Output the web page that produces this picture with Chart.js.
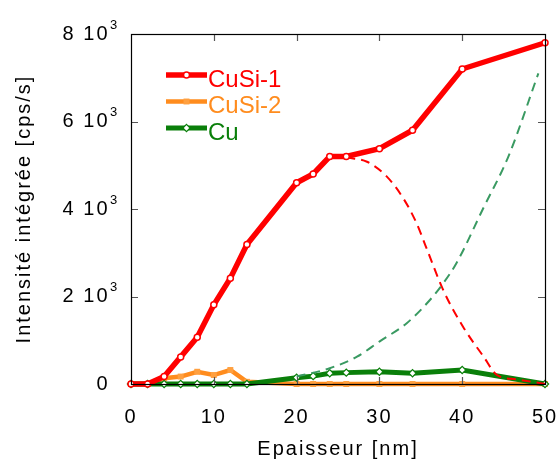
<!DOCTYPE html>
<html>
<head>
<meta charset="utf-8">
<script src="https://cdn.jsdelivr.net/npm/chart.js@4/dist/chart.umd.min.js"></script>
<style>
html,body{margin:0;padding:0;background:#ffffff;}
#wrap{width:560px;height:462px;}
</style>
</head>
<body>
<div id="wrap"><canvas id="c" width="560" height="462"></canvas></div>
<script>
// ---- data ----
const thickness = [0, 2, 4, 6, 8, 10, 12, 14, 20, 22, 24, 26, 30, 34, 40, 50];
const cusi1 = [0, 0, 170, 620, 1070, 1810, 2420, 3190, 4600, 4800, 5200, 5200, 5380, 5800, 7200, 7800];
const cusi2 = [0, 0, 130, 170, 280, 205, 320, 50, 0, 0, 0, 0, 0, 0, 0, 0];
const cu = [0, 0, 0, 0, 0, 0, 0, 0, 145, 180, 245, 260, 280, 245, 320, 0];

const cusi1TrendX = [26, 28.5, 30.9, 32.9, 34.5, 35.7, 37.7, 40.1, 42.6, 44.2, 46.6, 50];
const cusi1TrendY = [5180, 5080, 4740, 4240, 3670, 3100, 2150, 1310, 620, 205, 105, 0];
const cuTrendX = [20, 24, 27.3, 30, 33.3, 36.1, 37.7, 39.3, 42.5, 45.6, 49.2];
const cuTrendY = [170, 360, 625, 970, 1390, 1920, 2300, 2760, 4000, 5210, 7100];

const seriesNames = ['CuSi-1', 'CuSi-2', 'Cu'];
const xTicks = [0, 10, 20, 30, 40, 50];
const yTicks = [0, 2000, 4000, 6000, 8000];
const yTickLabels = ['0', '2 10', '4 10', '6 10', '8 10'];
const yTickExponents = ['', '3', '3', '3', '3'];
const xTitle = 'Epaisseur [nm]';
const yTitle = 'Intensité intégrée [cps/s]';

// ---- styles ----
const FONT = '"Liberation Sans", Arial, sans-serif';
const RED = '#ff0000';
const ORANGE = '#ff8c1e';
const ORANGE_MK = '#ffa040';
const GREEN = '#0a7f0a';
const GREEN_DASH = '#3a9a62';
const Y_PAD = 21.5;

const pts = (xs, ys) => xs.map((x, i) => ({x: x, y: ys[i]}));

const datasets = [
  {
    label: seriesNames[0], data: pts(thickness, cusi1),
    borderColor: RED, borderWidth: 5.5, pointStyle: 'circle', pointRadius: 3,
    pointBackgroundColor: '#ffffff', pointBorderColor: RED, pointBorderWidth: 1.5,
    order: 0, clip: false
  },
  {
    label: seriesNames[1], data: pts(thickness, cusi2),
    borderColor: ORANGE, borderWidth: 4.5, pointStyle: 'rect', pointRadius: 4.2,
    pointBackgroundColor: ORANGE_MK, pointBorderColor: ORANGE_MK, pointBorderWidth: 0,
    order: 4, clip: false
  },
  {
    label: seriesNames[2], data: pts(thickness, cu),
    borderColor: GREEN, borderWidth: 5, pointStyle: 'rectRot', pointRadius: 3.6,
    pointBackgroundColor: '#ffffff', pointBorderColor: GREEN, pointBorderWidth: 1.2,
    order: 3, clip: false
  },
  {
    label: 'CuSi-1 trend', data: pts(cusi1TrendX, cusi1TrendY),
    borderColor: RED, borderWidth: 2, borderDash: [9, 6], pointRadius: 0,
    cubicInterpolationMode: 'monotone', order: 2, clip: false
  },
  {
    label: 'Cu trend', data: pts(cuTrendX, cuTrendY),
    borderColor: GREEN_DASH, borderWidth: 2, borderDash: [9, 6], pointRadius: 0,
    cubicInterpolationMode: 'monotone', order: 1, clip: false
  }
];

const decorPlugin = {
  id: 'decor',
  beforeDraw(chart) {
    chart.ctx.letterSpacing = '2px';
  },
  afterDatasetsDraw(chart) {
    const ctx = chart.ctx;
    const a = chart.chartArea;
    const xs = chart.scales.x, ys = chart.scales.y;
    ctx.save();
    ctx.letterSpacing = '0px';
    // inner tick marks
    ctx.strokeStyle = '#555555';
    ctx.lineWidth = 1.2;
    ctx.beginPath();
    xTicks.forEach(v => {
      if (v === xTicks[0] || v === xTicks[xTicks.length - 1]) return;
      const px = Math.round(xs.getPixelForValue(v)) + 0.5;
      ctx.moveTo(px, a.top); ctx.lineTo(px, a.top + 7);
      ctx.moveTo(px, a.bottom); ctx.lineTo(px, a.bottom - 7);
    });
    yTicks.forEach(v => {
      if (v === yTicks[0] || v === yTicks[yTicks.length - 1]) return;
      const py = Math.round(ys.getPixelForValue(v)) + 0.5;
      ctx.moveTo(a.left, py); ctx.lineTo(a.left + 7, py);
      ctx.moveTo(a.right, py); ctx.lineTo(a.right - 7, py);
    });
    ctx.stroke();
    // frame
    ctx.strokeStyle = '#000000';
    ctx.lineWidth = 1.2;
    ctx.strokeRect(Math.round(a.left) + 0.5, Math.round(a.top) + 0.5,
                   Math.round(a.right - a.left), Math.round(a.bottom - a.top));
    // superscript exponents of y tick labels
    ctx.fillStyle = '#000000';
    ctx.font = '13px ' + FONT;
    ctx.textAlign = 'left';
    ctx.textBaseline = 'alphabetic';
    yTicks.forEach((v, i) => {
      if (!yTickExponents[i]) return;
      const py = ys.getPixelForValue(v);
      ctx.fillText(yTickExponents[i], ys.right - Y_PAD + 0.5, py - 5.5);
    });
    // legend (inside plot, top-left)
    const rows = [75, 101.5, 128];
    [0, 1, 2].forEach(i => {
      const ds = chart.data.datasets[i];
      const y = rows[i];
      ctx.strokeStyle = ds.borderColor;
      ctx.lineWidth = ds.borderWidth;
      ctx.beginPath();
      ctx.moveTo(166, y); ctx.lineTo(207, y);
      ctx.stroke();
      const cx = 186.5;
      ctx.fillStyle = ds.pointBackgroundColor;
      ctx.strokeStyle = ds.pointBorderColor;
      ctx.lineWidth = ds.pointBorderWidth;
      ctx.beginPath();
      if (ds.pointStyle === 'circle') {
        ctx.arc(cx, y, ds.pointRadius, 0, Math.PI * 2);
      } else if (ds.pointStyle === 'rect') {
        const s = ds.pointRadius * Math.SQRT1_2;
        ctx.rect(cx - s, y - s, 2 * s, 2 * s);
      } else {
        const r = ds.pointRadius;
        ctx.moveTo(cx, y - r); ctx.lineTo(cx + r, y); ctx.lineTo(cx, y + r); ctx.lineTo(cx - r, y); ctx.closePath();
      }
      ctx.fill();
      if (ds.pointBorderWidth > 0) ctx.stroke();
      ctx.fillStyle = ds.borderColor;
      ctx.font = '24px ' + FONT;
      ctx.textAlign = 'left';
      ctx.textBaseline = 'alphabetic';
      ctx.fillText(ds.label, 208, y + 11.5);
    });
    ctx.restore();
  }
};

new Chart(document.getElementById('c'), {
  type: 'line',
  data: { datasets: datasets },
  plugins: [decorPlugin],
  options: {
    responsive: false,
    animation: false,
    devicePixelRatio: 1,
    layout: { padding: { top: 34, right: 15, left: 0, bottom: 0 }, autoPadding: false },
    plugins: { legend: { display: false }, tooltip: { enabled: false } },
    elements: { line: { tension: 0 } },
    scales: {
      x: {
        type: 'linear', min: 0, max: 50,
        afterBuildTicks: s => { s.ticks = xTicks.map(v => ({value: v})); },
        ticks: { color: '#000', font: { family: FONT, size: 20 }, padding: 21, maxRotation: 0,
                 callback: v => String(v) },
        grid: { display: false, drawTicks: false }, border: { display: false },
        title: { display: true, text: xTitle, color: '#000', font: { family: FONT, size: 20 },
                 padding: { top: 0, bottom: 1 } },
        afterFit: s => { s.height = 78; s.paddingLeft = 0; s.paddingRight = 0; }
      },
      y: {
        type: 'linear', min: 0, max: 8000,
        afterBuildTicks: s => { s.ticks = yTicks.map(v => ({value: v})); },
        ticks: { color: '#000', font: { family: FONT, size: 20 }, padding: Y_PAD,
                 callback: (v) => yTickLabels[yTicks.indexOf(v)] },
        grid: { display: false, drawTicks: false }, border: { display: false },
        title: { display: true, text: yTitle, color: '#000', font: { family: FONT, size: 20 },
                 padding: { top: 12, bottom: 0 } },
        afterFit: s => { s.width = 131; s.paddingTop = 0; s.paddingBottom = 0; }
      }
    }
  }
});
</script>
</body>
</html>
